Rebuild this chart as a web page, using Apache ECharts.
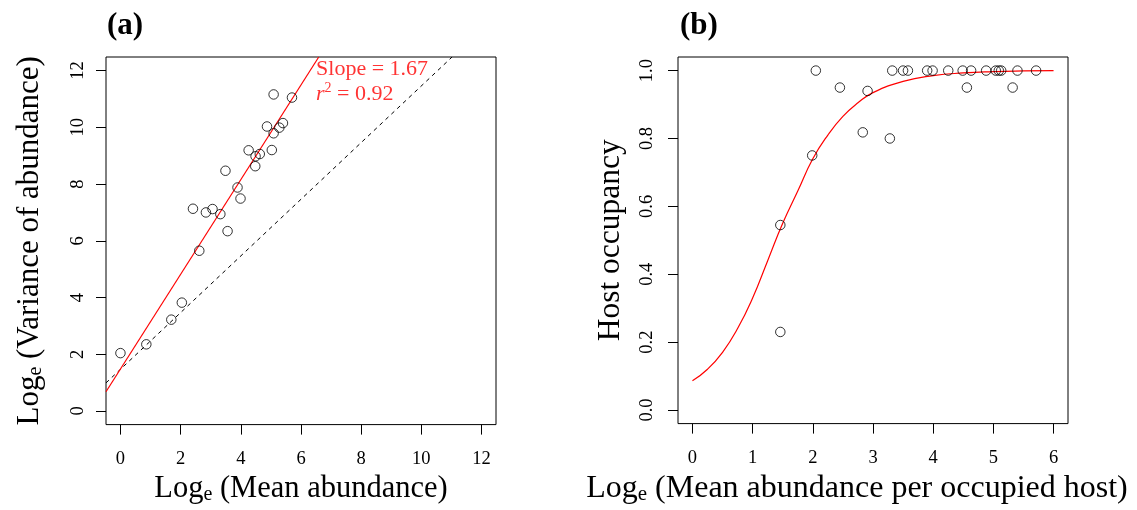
<!DOCTYPE html>
<html>
<head>
<meta charset="utf-8">
<script src="https://cdn.jsdelivr.net/npm/echarts@6/dist/echarts.min.js"></script>
<style>html,body{margin:0;padding:0;background:#fff}#c{width:1137px;height:510px}</style>
</head>
<body>
<div id="c"></div>
<script>
// Panel (a)
const meanAbund = [5.09,5.70,4.87,5.09,5.28,5.40,4.26,4.49,4.63,5.03,4.48,3.49,3.89,3.99,2.41,2.84,3.06,3.32,3.56,2.62,2.04,1.69,0.86,0.00];
const varAbund  = [11.16,11.05,10.03,9.79,9.99,10.15,9.19,8.98,9.06,9.20,8.63,8.47,7.88,7.49,7.13,7.00,7.12,6.94,6.34,5.65,3.82,3.22,2.35,2.04];
const slopeLineX = [-0.48, 6.59];
const slopeLineY = [0.68, 12.48];
const oneLineX = [-0.48, 11.02];
const oneLineY = [0.99, 12.48];
const aTicks = [0,2,4,6,8,10,12];
const annotX = [6.50];
const annotY = [11.60];
// Panel (b)
const meanPerHost = [2.05,2.45,2.91,2.83,1.99,1.46,1.46,3.28,3.32,3.50,3.58,3.90,3.99,4.25,4.49,4.63,4.88,5.04,5.09,5.13,5.40,5.71,4.56,5.32];
const occupancy   = [1.0,0.95,0.94,0.818,0.75,0.545,0.23,0.80,1,1,1,1,1,1,1,1,1,1,1,1,1,1,0.95,0.95];
const curveX = [0,0.25,0.5,0.75,1,1.25,1.5,1.75,2,2.25,2.5,2.75,3,3.5,4,4.5,5,5.5,6];
const curveY = [0.086,0.12,0.17,0.24,0.33,0.44,0.55,0.645,0.74,0.81,0.865,0.905,0.935,0.968,0.985,0.993,0.997,0.999,1.0];
const bXTicks = [0,1,2,3,4,5,6];
const bYTicks = [0,0.2,0.4,0.6,0.8,1.0];

const FF = 'Liberation Serif';
const zip = (a,b) => a.map((v,i)=>[v,b[i]]);

function xAxis(gi, min, max, ticks, name, fs, pad) {
  return {
    type:'value', gridIndex:gi, min:min, max:max,
    splitLine:{show:false}, axisLine:{show:false, onZero:false},
    axisTick:{show:true, inside:false, length:10, customValues:ticks, lineStyle:{color:'#000'}},
    axisLabel:{show:true, customValues:ticks, margin:25, color:'#000', fontFamily:FF, fontSize:18.5},
    name:name, nameLocation:'middle', nameGap:45,
    nameTextStyle:{color:'#000', fontFamily:FF, fontSize:fs, padding:pad,
      rich:{sub:{fontFamily:FF, fontSize:Math.round(fs*0.65), color:'#000', padding:[12,0,0,0]}}}
  };
}
function yAxis(gi, min, max, ticks, fmt, name, gap, fs, lm) {
  return {
    type:'value', gridIndex:gi, min:min, max:max,
    splitLine:{show:false}, axisLine:{show:false, onZero:false},
    axisTick:{show:true, inside:false, length:10, customValues:ticks, lineStyle:{color:'#000'}},
    axisLabel:{show:true, customValues:ticks, rotate:90, margin:lm, color:'#000', fontFamily:FF, fontSize:18.5, formatter:fmt},
    name:name, nameLocation:'middle', nameGap:gap, nameRotate:90,
    nameTextStyle:{color:'#000', fontFamily:FF, fontSize:fs,
      rich:{sub:{fontFamily:FF, fontSize:Math.round(fs*0.65), color:'#000', padding:[12,0,0,0]}}}
  };
}
const circleStyle = {color:'transparent', borderColor:'#000', borderWidth:1};

const option = {
  animation:false,
  backgroundColor:'#fff',
  title:[
    {text:'(a)', left:102, top:5.5, textStyle:{fontFamily:FF, fontWeight:'bold', fontSize:31, color:'#000'}},
    {text:'(b)', left:675, top:5.5, textStyle:{fontFamily:FF, fontWeight:'bold', fontSize:31, color:'#000'}}
  ],
  grid:[
    {left:106, top:57, width:390, height:375, show:true, borderColor:'#000', borderWidth:1, backgroundColor:'transparent'},
    {left:678, top:57, width:390, height:375, show:true, borderColor:'#000', borderWidth:1, backgroundColor:'transparent'}
  ],
  xAxis:[
    xAxis(0, -0.48, 12.48, aTicks, 'Log{sub|e} (Mean abundance)', 30.5, [0,0,0,0]),
    xAxis(1, -0.24, 6.24, bXTicks, 'Log{sub|e} (Mean abundance per occupied host)', 32, [0,32,0,0])
  ],
  yAxis:[
    yAxis(0, -0.48, 12.48, aTicks, v=>String(v), 'Log{sub|e} (Variance of abundance)', 60, 31, 18),
    yAxis(1, -0.04, 1.04, bYTicks, v=>v.toFixed(1), 'Host occupancy', 51, 31.5, 21)
  ],
  series:[
    {type:'line', xAxisIndex:0, yAxisIndex:0, data:zip(oneLineX, oneLineY), showSymbol:false, symbol:'none',
      lineStyle:{color:'#000', width:1, type:[4,4]}, silent:true, z:2},
    {type:'line', xAxisIndex:0, yAxisIndex:0, data:zip(slopeLineX, slopeLineY), showSymbol:false, symbol:'none',
      lineStyle:{color:'#ff0000', width:1.2}, silent:true, z:2},
    {type:'scatter', xAxisIndex:0, yAxisIndex:0, data:zip(meanAbund, varAbund), symbol:'circle', symbolSize:9.5,
      itemStyle:circleStyle, z:3},
    {type:'scatter', xAxisIndex:0, yAxisIndex:0, data:zip(annotX, annotY), symbolSize:0, silent:true,
      label:{show:true, position:'right', distance:0, color:'#ff0000', fontFamily:FF, fontSize:22, lineHeight:25, align:'left',
        formatter:'Slope = 1.67\n{i|r}{sup|2} = 0.92',
        rich:{i:{fontFamily:FF, fontStyle:'italic', fontSize:22, color:'#ff0000'},
              sup:{fontFamily:FF, fontSize:14, color:'#ff0000', padding:[0,0,12,0]}}}},
    {type:'line', xAxisIndex:1, yAxisIndex:1, data:zip(curveX, curveY), showSymbol:false, symbol:'none', smooth:true,
      lineStyle:{color:'#ff0000', width:1.2}, silent:true, z:2},
    {type:'scatter', xAxisIndex:1, yAxisIndex:1, data:zip(meanPerHost, occupancy), symbol:'circle', symbolSize:9.5,
      itemStyle:circleStyle, z:3}
  ]
};
const chart = echarts.init(document.getElementById('c'), null, {renderer:'canvas'});
chart.setOption(option);
</script>
</body>
</html>
